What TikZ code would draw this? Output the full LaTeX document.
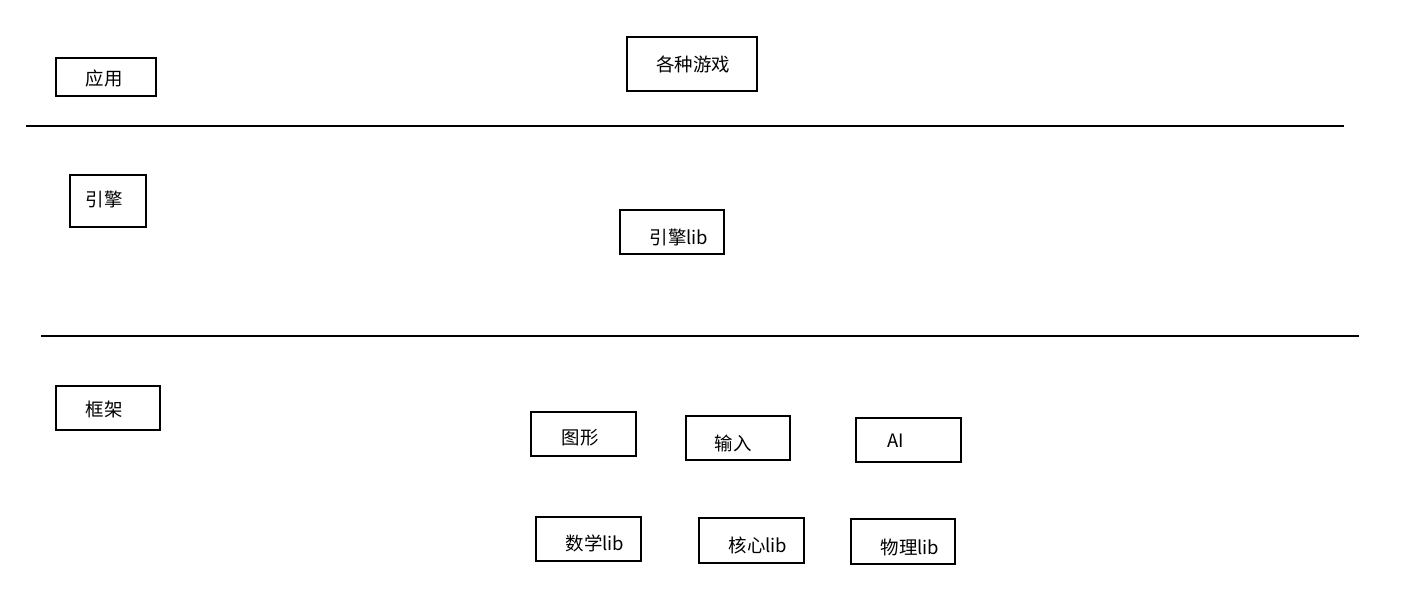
\documentclass[tikz,border=0pt]{standalone}
\usepackage{fontspec}
\newfontfamily\cjk{Noto Sans CJK SC}
\usepackage{tikz}
\usetikzlibrary{positioning}

\tikzset{
    frame/.style={draw=black, line width=1.1pt},
    label text/.style={font=\cjk\fontsize{10.5}{12}\selectfont, inner sep=0pt},
    divider/.style={draw=black, line width=1.1pt}
}

\begin{document}
\begin{tikzpicture}[x=0.02cm, y=-0.02cm]
        \useasboundingbox (0,0) rectangle (1418,612);
        % layer names on the left
        \draw[frame] (56,58) rectangle (156,96);
        \node[label text] (app) at (104,78) {应用};
        \draw[frame] (70,175) rectangle (146,227);
        \node[label text] (engine) at (104,199) {引擎};
        \draw[frame] (56,386) rectangle (160,430);
        \node[label text] (framework) at (104,409) {框架};
        % application layer
        \draw[frame] (627,37) rectangle (757,91);
        \node[label text] (games) at (693,64) {各种游戏};
        \coordinate (l1a) at (26,126);
        \coordinate (l1b) at (1344,126);
        \draw[divider] (l1a)--(l1b);
        % engine layer
        \draw[frame] (620,210) rectangle (724,254);
        \node[label text] (enginelib) at (679,237) {引擎lib};
        \coordinate (l2a) at (41,336);
        \coordinate (l2b) at (1359,336);
        \draw[divider] (l2a)--(l2b);
        % framework layer
        \draw[frame] (531,412) rectangle (636,456);
        \node[label text] (graphics) at (580,438) {图形};
        \draw[frame] (686,416) rectangle (790,460);
        \node[label text] (input) at (733,443) {输入};
        \draw[frame] (856,418) rectangle (961,462);
        \node[label text] (ai) at (896,441) {AI};
        \draw[frame] (536,517) rectangle (641,561);
        \node[label text] (mathlib) at (595,543) {数学lib};
        \draw[frame] (699,518) rectangle (804,563);
        \node[label text] (corelib) at (758,545) {核心lib};
        \draw[frame] (851,519) rectangle (955,564);
        \node[label text] (physlib) at (910,547) {物理lib};
\end{tikzpicture}
\end{document}
